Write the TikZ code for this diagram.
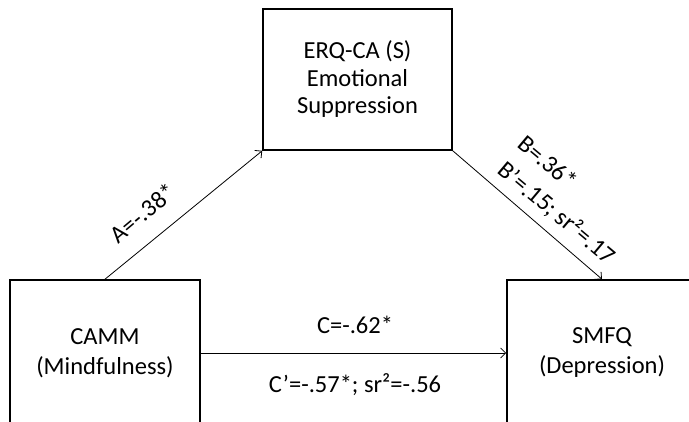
\documentclass[tikz,border=0pt]{standalone}
\usepackage{fontspec}
\setmainfont{Carlito}
\usetikzlibrary{arrows.meta}
\begin{document}
\begin{tikzpicture}[x=1pt,y=-1pt,
  box/.style={draw, line width=1.6pt, inner sep=0pt, align=center, font=\fontsize{24.5}{27.5}\selectfont},
  arr/.style={line width=0.8pt, -{Straight Barb[length=5pt,width=10pt]}},
  lbl/.style={inner sep=0pt, font=\fontsize{24.5}{25}\selectfont}]
\fill[white] (0,0) rectangle (689,421);
\useasboundingbox (0,0) rectangle (689,421);
\clip (0,0) rectangle (689,421);
\node[box, minimum width=189pt, minimum height=141pt] (T) at (357.5,79.5) {ERQ-CA (S)\\Emotional\\Suppression};
\node[box, minimum width=190pt, minimum height=146pt, font=\fontsize{24.5}{30}\selectfont] (L) at (105,353) {CAMM\\(Mindfulness)};
\node[box, minimum width=190pt, minimum height=146pt, font=\fontsize{24.5}{30}\selectfont] (R) at (602,353) {SMFQ\\(Depression)};
\draw[arr] (L.north) -- (T.south west);
\draw[arr] (T.south east) -- (R.north);
\draw[arr] (L.east) -- (L.east -| R.west);
\node[lbl, rotate=40] (la) at (143,213) {A=-.38*};
\node[lbl, rotate=-40] (lb1) at (548,162) {B=.36*};
\node[lbl, rotate=-40] (lb2) at (557,213) {B’=.15; sr²=.17};
\node[lbl] (lc1) at (355,325) {C=-.62*};
\node[lbl] (lc2) at (355,385) {C’=-.57*; sr²=-.56};
\end{tikzpicture}
\end{document}
